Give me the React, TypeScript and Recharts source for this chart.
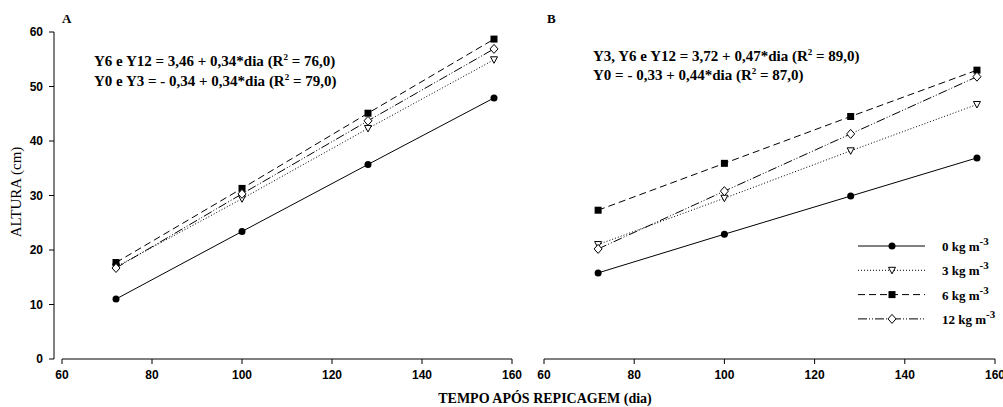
import React from 'react';
import { LineChart, Line, XAxis, YAxis, ReferenceLine, Legend } from 'recharts';

// days after transplanting
const days = [72, 100, 128, 156];
const xTicks = [60, 80, 100, 120, 140, 160];
const yTicks = [0, 10, 20, 30, 40, 50, 60];

// panel A
const a0 = [11.0, 23.4, 35.7, 47.9];
const a3 = [16.9, 29.4, 42.3, 54.9];
const a6 = [17.7, 31.3, 45.1, 58.7];
const a12 = [16.7, 30.3, 43.7, 56.9];

// panel B
const b0 = [15.8, 22.9, 29.9, 36.9];
const b3 = [21.0, 29.5, 38.2, 46.7];
const b6 = [27.3, 35.9, 44.5, 53.0];
const b12 = [20.2, 30.8, 41.3, 51.8];

const doseLabels = ['0', '3', '6', '12'];

const dataA = days.map((d, i) => ({ day: d, s0: a0[i], s3: a3[i], s6: a6[i], s12: a12[i] }));
const dataB = days.map((d, i) => ({ day: d, s0: b0[i], s3: b3[i], s6: b6[i], s12: b12[i] }));

type MarkerType = 'circle' | 'triangle' | 'square' | 'diamond';

const series: { key: string; dash?: string; marker: MarkerType }[] = [
  { key: 's0', marker: 'circle' },
  { key: 's3', dash: '1 2', marker: 'triangle' },
  { key: 's6', dash: '7 4', marker: 'square' },
  { key: 's12', dash: '9 2 1 2 1 2', marker: 'diamond' },
];

const Marker = ({ type, cx, cy }: { type: MarkerType; cx: number; cy: number }) => {
  if (type === 'circle') return <circle cx={cx} cy={cy} r={3.5} fill="#000" />;
  if (type === 'square') return <rect x={cx - 3.5} y={cy - 3.5} width={7} height={7} fill="#000" />;
  if (type === 'triangle')
    return (
      <polygon
        points={`${cx - 3.5},${cy - 3} ${cx + 3.5},${cy - 3} ${cx},${cy + 3.5}`}
        fill="#fff"
        stroke="#000"
        strokeWidth={1}
      />
    );
  return (
    <polygon
      points={`${cx},${cy - 4.5} ${cx + 4},${cy} ${cx},${cy + 4.5} ${cx - 4},${cy}`}
      fill="#fff"
      stroke="#000"
      strokeWidth={1}
    />
  );
};

const sans = 'Liberation Sans, Arial, sans-serif';
const serif = 'Liberation Serif, Times New Roman, serif';

const XTick = (p: any) => (
  <text x={p.x} y={p.y + 13} textAnchor="middle" fontFamily={sans} fontWeight={700} fontSize={12} fill="#000">
    {p.payload.value}
  </text>
);

const YTick = (p: any) => (
  <text x={p.x - 1} y={p.y + 4} textAnchor="end" fontFamily={sans} fontWeight={700} fontSize={12} fill="#000">
    {p.payload.value}
  </text>
);

const renderLines = () =>
  series.map((s) => (
    <Line
      key={s.key}
      type="linear"
      dataKey={s.key}
      stroke="#000"
      strokeWidth={1}
      strokeDasharray={s.dash}
      isAnimationActive={false}
      dot={(p: any) => <Marker key={`${s.key}-${p.index}`} type={s.marker} cx={p.cx} cy={p.cy} />}
      activeDot={false}
    />
  ));

const LegendBox = () => (
  <svg width={160} height={100} style={{ overflow: 'visible' }}>
    {series.map((s, i) => {
      const y = 11 + i * 24.3;
      return (
        <g key={s.key}>
          <line x1={8} x2={75} y1={y} y2={y} stroke="#000" strokeWidth={1} strokeDasharray={s.dash} />
          <Marker type={s.marker} cx={42} cy={y} />
          <text x={92} y={y + 5} fontFamily={serif} fontWeight="bold" fontSize={13} fill="#000">
            {doseLabels[i]} kg m
            <tspan dy={-6} fontSize={11}>-3</tspan>
          </text>
        </g>
      );
    })}
  </svg>
);

const eqStyle = { fontFamily: serif, fontWeight: 'bold' as const, fontSize: 15, fill: '#000' };

const R2 = ({ v }: { v: string }) => (
  <>
    (R<tspan dy={-6} fontSize={9}>2</tspan>
    <tspan dy={6}> = {v})</tspan>
  </>
);

export default function App() {
  return (
    <div style={{ position: 'absolute', left: 0, top: 0, width: 1003, height: 407, background: '#fff' }}>
      <div style={{ position: 'absolute', left: 0, top: 0 }}>
        <LineChart width={540} height={407} data={dataA} margin={{ top: 32, right: 28, left: 0, bottom: 18 }}>
          <YAxis
            width={54}
            type="number"
            domain={[0, 60]}
            ticks={yTicks}
            interval={0}
            tickSize={5}
            tickMargin={5}
            tick={<YTick />}
            axisLine={{ stroke: '#000' }}
            tickLine={{ stroke: '#000' }}
          />
          <XAxis
            dataKey="day"
            type="number"
            domain={[60, 160]}
            ticks={xTicks}
            interval={0}
            height={30}
            padding={{ left: 8, right: 0 }}
            tickSize={5}
            tickMargin={2}
            tick={<XTick />}
            axisLine={false}
            tickLine={{ stroke: '#000' }}
          />
          <ReferenceLine segment={[{ x: 60, y: 0 }, { x: 160, y: 0 }]} stroke="#000" strokeWidth={1} />
          {renderLines()}
        </LineChart>
      </div>
      <div style={{ position: 'absolute', left: 500, top: 0 }}>
        <LineChart width={503} height={407} data={dataB} margin={{ top: 32, right: 8, left: 44, bottom: 18 }}>
          <YAxis hide type="number" domain={[0, 60]} ticks={yTicks} />
          <XAxis
            dataKey="day"
            type="number"
            domain={[60, 160]}
            ticks={xTicks}
            interval={0}
            height={30}
            tickSize={5}
            tickMargin={2}
            tick={<XTick />}
            axisLine={{ stroke: '#000' }}
            tickLine={{ stroke: '#000' }}
          />
          {renderLines()}
          <Legend
            layout="horizontal"
            verticalAlign="middle"
            align="center"
            content={() => <LegendBox />}
            wrapperStyle={{ left: 350, top: 235, width: 160, height: 100 }}
          />
        </LineChart>
      </div>
      <svg width={1003} height={407} style={{ position: 'absolute', left: 0, top: 0, pointerEvents: 'none' }}>
        <text x={62} y={23} fontFamily={serif} fontWeight="bold" fontSize={13}>A</text>
        <text x={547} y={23} fontFamily={serif} fontWeight="bold" fontSize={13}>B</text>
        <text x={94} y={66} {...eqStyle}>
          Y6 e Y12 = 3,46 + 0,34*dia <R2 v="76,0" />
        </text>
        <text x={94} y={86} {...eqStyle}>
          Y0 e Y3 = - 0,34 + 0,34*dia <R2 v="79,0" />
        </text>
        <text x={593} y={61} {...eqStyle}>
          Y3, Y6 e Y12 = 3,72 + 0,47*dia <R2 v="89,0" />
        </text>
        <text x={593} y={80} {...eqStyle}>
          Y0 = - 0,33 + 0,44*dia <R2 v="87,0" />
        </text>
        <text x={545} y={403} textAnchor="middle" fontFamily={serif} fontWeight="bold" fontSize={14}>
          TEMPO APÓS REPICAGEM (dia)
        </text>
        <text
          x={0}
          y={0}
          transform="translate(21,192) rotate(-90)"
          textAnchor="middle"
          fontFamily={serif}
          fontSize={15}
        >
          ALTURA (cm)
        </text>
      </svg>
    </div>
  );
}
